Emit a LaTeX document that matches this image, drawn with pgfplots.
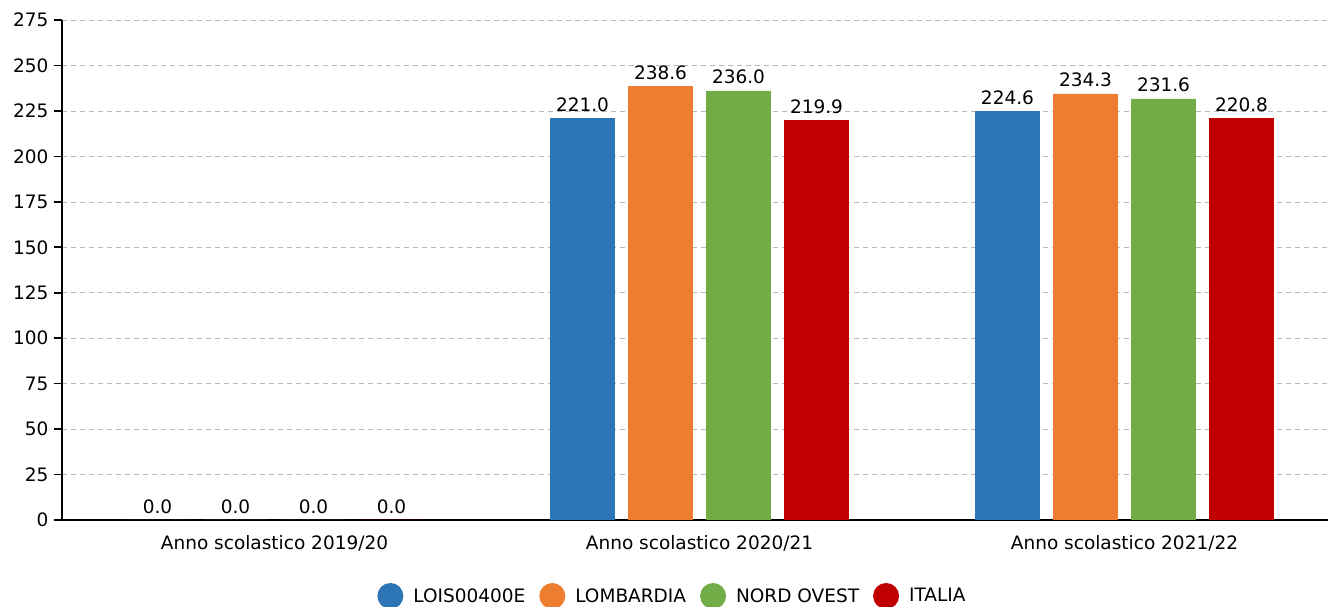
\documentclass[border=0pt]{standalone}
\usepackage{pgfplots}
\pgfplotsset{compat=1.18}
\usepackage{fontspec}
\setmainfont{DejaVu Sans}
\definecolor{cblue}{HTML}{2E75B6}
\definecolor{corange}{HTML}{ED7D31}
\definecolor{cgreen}{HTML}{70AD47}
\definecolor{cred}{HTML}{C00000}
\newcommand{\txt}{\fontsize{18.5}{22}\selectfont}
\begin{document}
\begin{tikzpicture}
  \useasboundingbox (-62pt,-87pt) rectangle (1266pt,520pt);
  \begin{axis}[
      at={(0,0)}, anchor=south west,
      scale only axis,
      width=1275pt, height=500pt,
      ybar=14pt,
      bar width=64pt,
      xmin=-0.5, xmax=2.5,
      ymin=0, ymax=275,
      ytick={0,25,...,275},
      xtick=data,
      xticklabels={Anno scolastico 2019/20, Anno scolastico 2020/21, Anno scolastico 2021/22},
      axis x line=bottom, axis y line=left,
      axis line style={-, black, line width=1.6pt},
      x tick style={draw=none},
      y tick style={black, line width=1.6pt},
      tick align=outside,
      major tick length=8pt,
      ymajorgrids,
      major grid style={gray!55, dash pattern=on 5pt off 4pt, line width=0.6pt},
      /pgf/number format/assume math mode=true,
      ticklabel style={font=\txt},
      yticklabel style={xshift=-2pt},
      xticklabel style={yshift=-4pt},
      nodes near coords={\pgfmathprintnumber[fixed, fixed zerofill, precision=1, assume math mode=true]{\pgfplotspointmeta}},
      nodes near coords style={font=\txt, yshift=3pt},
      legend style={at={(0.478,-0.152)}, anchor=center, draw=none, legend columns=-1, font=\txt,
        nodes={inner xsep=0pt},
        /tikz/every even column/.append style={column sep=14pt}},
      legend image code/.code={\path[draw=none, fill=none] (0pt,0pt) -- (36pt,0pt); \fill[#1, draw=none] (13pt,0pt) circle (13pt);},
    ]
    \addplot[fill=cblue, draw=cblue, line width=0.8pt] coordinates {(0,0) (1,221.0) (2,224.6)};
    \addplot[fill=corange, draw=corange, line width=0.8pt] coordinates {(0,0) (1,238.6) (2,234.3)};
    \addplot[fill=cgreen, draw=cgreen, line width=0.8pt] coordinates {(0,0) (1,236.0) (2,231.6)};
    \addplot[fill=cred, draw=cred, line width=0.8pt] coordinates {(0,0) (1,219.9) (2,220.8)};
    \legend{LOIS00400E, LOMBARDIA, NORD OVEST, ITALIA}
  \end{axis}
\end{tikzpicture}
\end{document}
